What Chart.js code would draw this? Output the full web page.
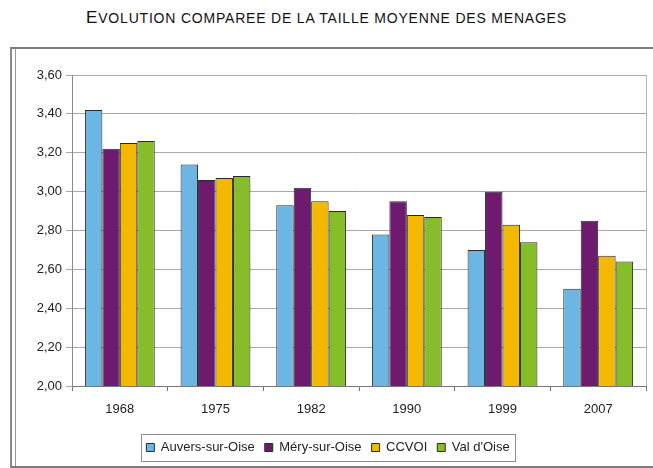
<!DOCTYPE html>
<html lang="fr">
<head>
<meta charset="UTF-8">
<title>Taille moyenne des ménages</title>
<script src="https://cdn.jsdelivr.net/npm/chart.js"></script>
<style>
  body { margin: 0; background: #fff; width: 653px; height: 468px; overflow: hidden; position: relative; font-family: "Liberation Sans", Arial, sans-serif; }
  .titre { position: absolute; top: 8px; left: 0; width: 653px; text-align: center; font-size: 14px; letter-spacing: 0.8px; color: #111; white-space: nowrap; }
  .titre .maj { font-size: 17px; }
  .cadre { position: absolute; left: 10px; top: 47px; width: 700px; height: 417px; border-top: 2px solid #7c7c7c; border-left: 2px solid #8a8a8a; border-bottom: 2px solid #7c7c7c; }
  .cadre .trait { position: absolute; left: 3px; top: 0; bottom: 0; border-left: 1px solid #9a9a9a; }
  canvas { position: absolute; left: 0; top: 0; }
</style>
</head>
<body>
  <div class="titre"><span class="maj">E</span>VOLUTION COMPAREE DE LA TAILLE MOYENNE DES MENAGES</div>
  <div class="cadre"><div class="trait"></div></div>
  <canvas id="graphique" width="653" height="468"></canvas>
<script>
  // années du recensement
  const annees = ['1968', '1975', '1982', '1990', '1999', '2007'];
  // taille moyenne des ménages (personnes)
  const auvers = [3.42, 3.14, 2.93, 2.78, 2.70, 2.50];
  const mery   = [3.22, 3.06, 3.02, 2.95, 3.00, 2.85];
  const ccvoi  = [3.25, 3.07, 2.95, 2.88, 2.83, 2.67];
  const valOise = [3.26, 3.08, 2.90, 2.87, 2.74, 2.64];
  const graduations = [2.0, 2.2, 2.4, 2.6, 2.8, 3.0, 3.2, 3.4, 3.6];

  const police = { family: '"Liberation Sans", Arial, sans-serif', size: 13 };

  // cadre gris autour de la zone de tracé et de la légende
  const cadres = {
    id: 'cadres',
    afterDraw(chart) {
      const c = chart.ctx, a = chart.chartArea, l = chart.legend;
      c.save();
      c.strokeStyle = '#b5b5b5';
      c.lineWidth = 1;
      c.beginPath();
      c.moveTo(Math.round(a.right) + 0.5, a.top);
      c.lineTo(Math.round(a.right) + 0.5, a.bottom);
      c.stroke();
      if (l && l.legendHitBoxes.length) {
        const b = l.legendHitBoxes;
        const x0 = b[0].left - 5, x1 = b[b.length - 1].left + b[b.length - 1].width + 6;
        const y0 = b[0].top - 7, y1 = b[0].top + b[0].height + 7;
        c.strokeStyle = '#8c8c8c';
        c.strokeRect(Math.round(x0) + 0.5, Math.round(y0) + 0.5, Math.round(x1 - x0), Math.round(y1 - y0));
      }
      c.restore();
    }
  };

  function serie(nom, valeurs, couleur) {
    return { label: nom, data: valeurs, backgroundColor: couleur, borderColor: '#2a2a2a', borderWidth: 1, borderSkipped: 'bottom' };
  }

  new Chart(document.getElementById('graphique'), {
    type: 'bar',
    data: {
      labels: annees,
      datasets: [
        serie('Auvers-sur-Oise', auvers, '#6cb6e6'),
        serie('Méry-sur-Oise', mery, '#6e1a6e'),
        serie('CCVOI', ccvoi, '#f4b800'),
        serie("Val d'Oise", valOise, '#86bd2a')
      ]
    },
    options: {
      responsive: false,
      animation: false,
      layout: { padding: { left: 10, right: 7, top: 75, bottom: 4 } },
      datasets: { bar: { barPercentage: 1, categoryPercentage: 0.73 } },
      scales: {
        x: {
          grid: { offset: true, drawOnChartArea: false, tickLength: 5, color: '#777' },
          border: { color: '#777' },
          ticks: { color: '#222', font: police, padding: 11 },
          afterFit: s => { s.height = 45; }
        },
        y: {
          min: 2, max: 3.6,
          afterBuildTicks: s => { s.ticks = graduations.map(v => ({ value: v })); },
          grid: { color: '#a8a8a8', tickLength: 6 },
          border: { color: '#8a8a8a' },
          ticks: { color: '#222', font: police, padding: 4, callback: v => v.toFixed(2).replace('.', ',') },
          afterFit: s => { s.width = 62; }
        }
      },
      plugins: {
        legend: {
          position: 'bottom',
          labels: { font: police, color: '#222', boxWidth: 8, boxHeight: 8, padding: 10 }
        },
        tooltip: { enabled: false }
      }
    },
    plugins: [cadres]
  });
</script>
</body>
</html>
